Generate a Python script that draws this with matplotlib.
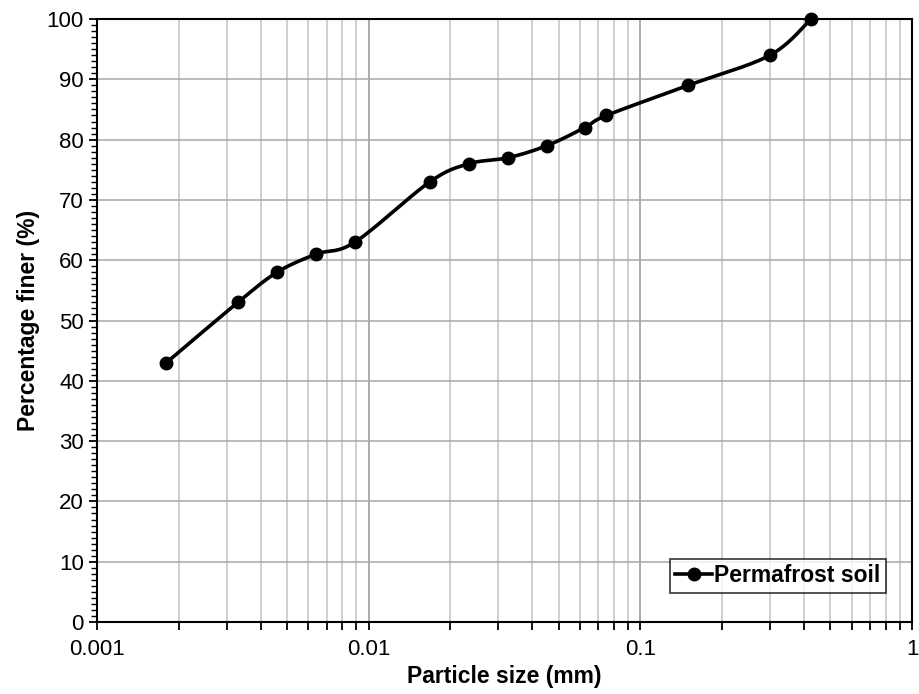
import numpy as np
import matplotlib
matplotlib.use("Agg")
import matplotlib.pyplot as plt
from matplotlib.ticker import LogLocator, MultipleLocator, FixedLocator, FixedFormatter

# Data
particle_size = [0.0018, 0.0033, 0.0046, 0.0064, 0.0089, 0.0168, 0.0234, 0.0326,
                 0.0453, 0.0625, 0.075, 0.15, 0.30, 0.425]
percent_finer = [43, 53, 58, 61, 63, 73, 76, 77, 79, 82, 84, 89, 94, 100]
series_name = "Permafrost soil"
x_tick_vals = [0.001, 0.01, 0.1, 1]
x_tick_labels = ["0.001", "0.01", "0.1", "1"]

plt.rcParams['font.family'] = ['Liberation Sans', 'DejaVu Sans']

fig = plt.figure(figsize=(9.19, 6.94), dpi=100)
ax = fig.add_axes([0.1055, 0.1037, 0.9924 - 0.1055, 0.9726 - 0.1037])

# Excel-style smoothed line (Bezier through points in log-x space)
u = np.log10(np.array(particle_size))
v = np.array(percent_finer, dtype=float)
n = len(u)
cu, cv = [], []
t = np.linspace(0, 1, 30)
for i in range(n - 1):
    p0 = (u[max(i - 1, 0)], v[max(i - 1, 0)])
    p1 = (u[i], v[i])
    p2 = (u[i + 1], v[i + 1])
    p3 = (u[min(i + 2, n - 1)], v[min(i + 2, n - 1)])
    c1 = (p1[0] + (p2[0] - p0[0]) / 6, p1[1] + (p2[1] - p0[1]) / 6)
    c2 = (p2[0] - (p3[0] - p1[0]) / 6, p2[1] - (p3[1] - p1[1]) / 6)
    for a, b in ((0, cu), (1, cv)):
        seg = ((1 - t) ** 3 * p1[a] + 3 * (1 - t) ** 2 * t * c1[a]
               + 3 * (1 - t) * t ** 2 * c2[a] + t ** 3 * p2[a])
        b.extend(seg if i == 0 else seg[1:])
cu = np.array(cu)
cv = np.array(cv)

ax.plot(10 ** cu, cv, color='black', lw=2.6, zorder=3, clip_on=False)
ax.plot(particle_size, percent_finer, 'o', color='black', ms=9, zorder=4, clip_on=False)
ax.plot([], [], '-o', color='black', lw=2.6, ms=9, label=series_name)

ax.set_xscale('log')
ax.set_xlim(0.001, 1)
ax.set_ylim(0, 100)

ax.xaxis.set_major_locator(FixedLocator(x_tick_vals))
ax.xaxis.set_major_formatter(FixedFormatter(x_tick_labels))
ax.xaxis.set_minor_locator(LogLocator(base=10, subs=np.arange(2, 10)))
ax.yaxis.set_major_locator(MultipleLocator(10))
ax.yaxis.set_minor_locator(MultipleLocator(1))

ax.grid(True, which='minor', axis='x', color='#c4c4c4', lw=1.1)
ax.grid(True, which='major', axis='x', color='#959595', lw=1.1)
ax.grid(True, which='major', axis='y', color='#a8a8a8', lw=1.1)
ax.set_axisbelow(True)

ax.tick_params(axis='both', which='major', direction='out', length=6, width=1.3,
               labelsize=16, colors='black')
ax.tick_params(axis='x', which='minor', direction='out', length=6, width=1.3)
ax.tick_params(axis='y', which='minor', direction='out', length=4, width=1.0)
ax.tick_params(axis='x', pad=6)

for s in ax.spines.values():
    s.set_color('black')
    s.set_linewidth(1.5)

ax.set_xlabel('Particle size (mm)', fontsize=16.5, fontweight='bold', labelpad=4)
ax.set_ylabel('Percentage finer (%)', fontsize=16.5, fontweight='bold', labelpad=5)

leg = ax.legend(loc='lower right', bbox_to_anchor=(0.9685, 0.048),
                prop={'weight': 'bold', 'size': 16.5}, frameon=True, fancybox=False,
                handlelength=1.6, handletextpad=0.1, borderpad=0.25,
                borderaxespad=0)
leg.get_frame().set_edgecolor('black')
leg.get_frame().set_linewidth(1.2)

fig.savefig('out.png', dpi=100)
